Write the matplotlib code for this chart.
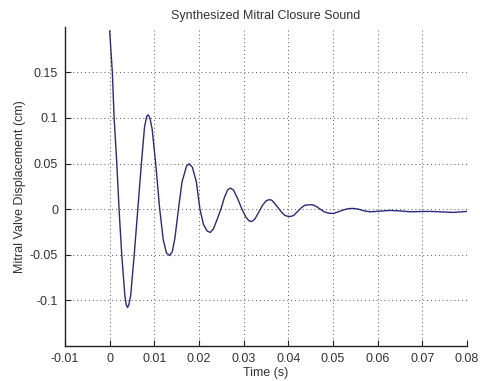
import numpy as np
import matplotlib
matplotlib.use("Agg")
import matplotlib.pyplot as plt

# values
time_s = [0.0, 0.0006, 0.0010, 0.0016, 0.0021, 0.0027, 0.0034, 0.0037, 0.0040, 0.0043,
          0.0047, 0.0055, 0.0063, 0.0071, 0.0078, 0.0083, 0.00865, 0.0090, 0.0095, 0.0103,
          0.0112, 0.0120, 0.0127, 0.0134, 0.0140, 0.0146, 0.0154, 0.0162, 0.0172, 0.0178,
          0.0185, 0.0194, 0.0202, 0.0210, 0.0218, 0.0225, 0.0232, 0.0240, 0.0249, 0.0257,
          0.0264, 0.0270, 0.0277, 0.0286, 0.0296, 0.0305, 0.0312, 0.0318, 0.0325, 0.0333,
          0.0342, 0.0350, 0.0356, 0.0362, 0.0368, 0.0376, 0.0384, 0.0392, 0.0399, 0.0405,
          0.0412, 0.0420, 0.0428, 0.0436, 0.0445, 0.0454, 0.0462, 0.0471, 0.0480, 0.0490,
          0.0501, 0.0512, 0.0523, 0.0534, 0.0545, 0.0556, 0.0570, 0.0583, 0.0600, 0.0627,
          0.0650, 0.0672, 0.0695, 0.0717, 0.0740, 0.0769, 0.0800]
displacement_cm = [0.1955, 0.150, 0.100, 0.050, 0.000, -0.050, -0.095, -0.105, -0.108, -0.105,
                   -0.095, -0.050, 0.000, 0.050, 0.090, 0.102, 0.1034, 0.100, 0.088, 0.050,
                   0.000, -0.034, -0.048, -0.051, -0.047, -0.032, 0.000, 0.030, 0.047, 0.0497,
                   0.046, 0.030, 0.000, -0.017, -0.024, -0.0257, -0.022, -0.012, 0.000, 0.013,
                   0.021, 0.023, 0.021, 0.012, 0.000, -0.009, -0.013, -0.0136, -0.011, -0.004,
                   0.004, 0.009, 0.0102, 0.010, 0.007, 0.002, -0.003, -0.007, -0.008, -0.0081,
                   -0.007, -0.003, 0.001, 0.004, 0.0047, 0.0047, 0.003, 0.000, -0.003, -0.0045,
                   -0.0048, -0.003, -0.001, 0.0005, 0.0007, 0.000, -0.002, -0.003, -0.0025, -0.0015,
                   -0.002, -0.003, -0.0027, -0.0026, -0.003, -0.0037, -0.0026]

x_ticks = [-0.01, 0, 0.01, 0.02, 0.03, 0.04, 0.05, 0.06, 0.07, 0.08]
x_labels = ["-0.01", "0", "0.01", "0.02", "0.03", "0.04", "0.05", "0.06", "0.07", "0.08"]
y_ticks = [-0.1, -0.05, 0, 0.05, 0.1, 0.15]
y_labels = ["-0.1", "-0.05", "0", "0.05", "0.1", "0.15"]

plt.rcParams['font.family'] = ['Liberation Sans', 'DejaVu Sans']
plt.rcParams['font.size'] = 9

fig = plt.figure(figsize=(4.81, 3.81), dpi=100)
ax = fig.add_axes([0.1351, 0.0927, 0.836, 0.8367])

ax.plot(time_s, displacement_cm, color='#2a2a7e', linewidth=1.0)

ax.set_xlim(-0.01, 0.08)
ax.set_ylim(-0.15, 0.2)
ax.set_xticks(x_ticks)
ax.set_xticklabels(x_labels)
ax.set_yticks(y_ticks)
ax.set_yticklabels(y_labels)
ax.tick_params(direction='in', length=4, width=0.8, colors='#222222', labelcolor='#333333', pad=5)

ax.grid(True, color='#555555', linestyle=(0, (1, 3)), linewidth=0.7)
# MATLAB draws the grid at the axis limits too, box off
ax.axvline(0.08, color='#555555', linestyle=(0, (1, 3)), linewidth=0.7)
for side in ['top', 'right']:
    ax.spines[side].set_visible(False)
for side in ['left', 'bottom']:
    ax.spines[side].set_linewidth(1.0)
    ax.spines[side].set_color('#222222')

ax.set_title('Synthesized Mitral Closure Sound', fontsize=9, color='#333333', pad=6)
ax.set_xlabel('Time (s)', color='#333333', labelpad=2)
ax.set_ylabel('Mitral Valve Displacement (cm)', color='#333333', labelpad=3)

fig.savefig('out.png', dpi=100, facecolor='white')
